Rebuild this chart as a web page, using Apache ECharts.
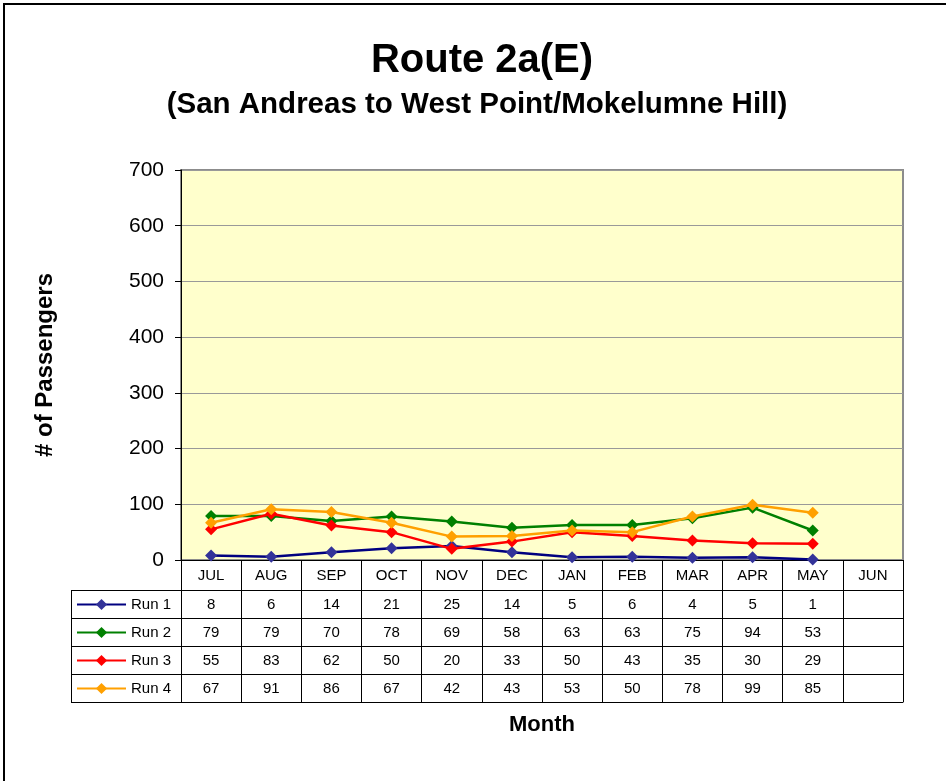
<!DOCTYPE html>
<html>
<head>
<meta charset="utf-8">
<script src="https://cdn.jsdelivr.net/npm/echarts@6/dist/echarts.min.js"></script>
<style>
html,body{margin:0;padding:0;background:#fff;}
#chart{width:946px;height:781px;}
</style>
</head>
<body>
<div id="chart"></div>
<script>
var categories = ['JUL','AUG','SEP','OCT','NOV','DEC','JAN','FEB','MAR','APR','MAY','JUN'];
var seriesNames = ['Run 1','Run 2','Run 3','Run 4'];
var run1 = [8, 6, 14, 21, 25, 14, 5, 6, 4, 5, 1];
var run2 = [79, 79, 70, 78, 69, 58, 63, 63, 75, 94, 53];
var run3 = [55, 83, 62, 50, 20, 33, 50, 43, 35, 30, 29];
var run4 = [67, 91, 86, 67, 42, 43, 53, 50, 78, 99, 85];
var yTicks = [0, 100, 200, 300, 400, 500, 600, 700];
var titleText = 'Route 2a(E)';
var subtitleText = '(San Andreas to West Point/Mokelumne Hill)';
var yAxisTitle = '# of Passengers';
var xAxisTitle = 'Month';

var runs = [run1, run2, run3, run4];
var lineColors = ['#000080', '#008000', '#FF0000', '#FFA000'];
var markerColors = ['#333399', '#008000', '#FF0000', '#FFA000'];

var FONT = '"Liberation Sans", Arial, sans-serif';
var gridLeft = 181, gridRight = 903, gridTop = 170, gridBottom = 560;
var headerH = 30, rowH = 28;

var chart = echarts.init(document.getElementById('chart'), null, {renderer: 'canvas'});

var xAxes = [{
  type: 'category',
  data: categories,
  gridIndex: 0,
  position: 'bottom',
  boundaryGap: true,
  axisLine: {show: true, lineStyle: {color: '#000', width: 1}},
  axisTick: {show: true, interval: 0, length: headerH, lineStyle: {color: '#000', width: 1}},
  axisLabel: {show: true, interval: 0, margin: 8, fontFamily: FONT, fontSize: 15, color: '#000'},
  splitLine: {show: false}
}];
runs.forEach(function (arr, i) {
  xAxes.push({
    type: 'category',
    data: categories,
    gridIndex: 0,
    position: 'bottom',
    offset: headerH + rowH * i,
    boundaryGap: true,
    axisLine: {show: true, onZero: false, lineStyle: {color: '#000', width: 1}},
    axisTick: {show: true, interval: 0, length: rowH, lineStyle: {color: '#000', width: 1}},
    axisLabel: {
      show: true, interval: 0, margin: 7, fontFamily: FONT, fontSize: 15, color: '#000',
      formatter: function (v, idx) { return arr[idx] === undefined ? '' : String(arr[idx]); }
    },
    splitLine: {show: false}
  });
});
xAxes.push({
  type: 'category',
  data: categories,
  gridIndex: 0,
  position: 'bottom',
  offset: headerH + rowH * 4,
  boundaryGap: true,
  axisLine: {show: true, onZero: false, lineStyle: {color: '#000', width: 1}},
  axisTick: {show: false},
  axisLabel: {show: false},
  splitLine: {show: false},
  name: xAxisTitle,
  nameLocation: 'middle',
  nameGap: 23,
  nameTextStyle: {fontFamily: FONT, fontSize: 22, fontWeight: 'bold', color: '#000', verticalAlign: 'middle'}
});

var series = runs.map(function (arr, i) {
  return {
    name: seriesNames[i],
    type: 'line',
    xAxisIndex: 0,
    yAxisIndex: 0,
    data: arr,
    symbol: 'diamond',
    symbolSize: 12,
    lineStyle: {color: lineColors[i], width: 2.5},
    itemStyle: {color: markerColors[i]},
    z: 3 + i
  };
});

// legend column decoration (table lines left of the grid)
var tableTop = gridBottom + headerH;
var graphics = [
  {type: 'rect', shape: {x: 4, y: 4, width: 1000, height: 1000}, style: {fill: 'none', stroke: '#000', lineWidth: 2}, silent: true},
  {type: 'line', shape: {x1: 71.5, y1: tableTop + 0.5, x2: 71.5, y2: tableTop + rowH * 4 + 0.5}, style: {stroke: '#000', lineWidth: 1}}
];
for (var r = 0; r <= 4; r++) {
  graphics.push({type: 'line', shape: {x1: 71, y1: tableTop + rowH * r + 0.5, x2: gridLeft, y2: tableTop + rowH * r + 0.5}, style: {stroke: '#000', lineWidth: 1}});
}

var option = {
  animation: false,
  backgroundColor: '#fff',
  title: [
    {text: titleText, left: 477, top: 36, textAlign: 'center',
     textStyle: {fontFamily: FONT, fontSize: 40, fontWeight: 'bold', color: '#000'}},
    {text: subtitleText, left: 472, top: 85, textAlign: 'center',
     textStyle: {fontFamily: FONT, fontSize: 29.5, fontWeight: 'bold', color: '#000'}}
  ],
  legend: {
    orient: 'vertical',
    left: 76,
    top: tableTop + 7,
    data: seriesNames,
    itemWidth: 49,
    itemHeight: 14,
    itemGap: 13,
    padding: 0,
    textStyle: {fontFamily: FONT, fontSize: 15, color: '#000', lineHeight: 14}
  },
  grid: {
    left: gridLeft, right: 946 - gridRight, top: gridTop, bottom: 781 - gridBottom,
    show: true, backgroundColor: '#FFFFCC', borderColor: '#8c8c8c', borderWidth: 2,
    containLabel: false
  },
  xAxis: xAxes,
  yAxis: {
    type: 'value',
    min: yTicks[0],
    max: yTicks[yTicks.length - 1],
    interval: yTicks[1] - yTicks[0],
    axisLine: {show: true, lineStyle: {color: '#000', width: 1}},
    axisTick: {show: true, length: 6, lineStyle: {color: '#000'}},
    axisLabel: {fontFamily: FONT, fontSize: 21, color: '#000', margin: 17},
    splitLine: {show: true, lineStyle: {color: '#999', width: 1}},
    name: yAxisTitle,
    nameLocation: 'middle',
    nameRotate: 90,
    nameGap: 136,
    nameTextStyle: {fontFamily: FONT, fontSize: 24, fontWeight: 'bold', color: '#000', verticalAlign: 'middle'}
  },
  series: series,
  graphic: graphics
};
chart.setOption(option);
</script>
</body>
</html>
